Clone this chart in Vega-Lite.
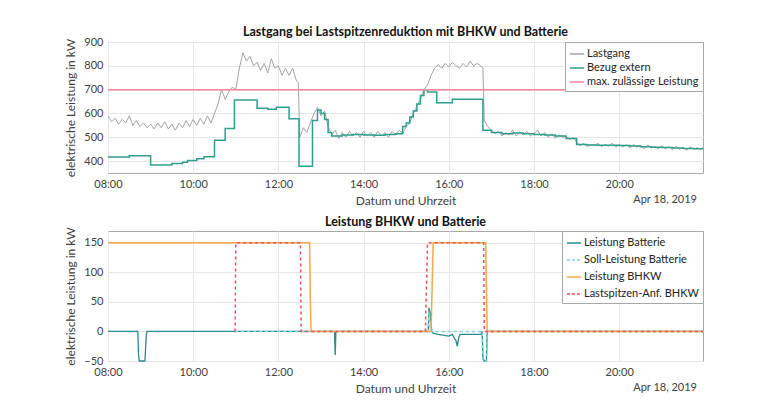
{
  "$schema": "https://vega.github.io/schema/vega-lite/v6.json",
  "background": "white",
  "padding": {"left": 64, "top": 25, "right": 10, "bottom": 0},
  "spacing": 8,
  "resolve": {"scale": {"color": "independent"}, "legend": {"color": "independent"}},
  "datasets": {
    "lastgang": [
      {"t":"2019-04-18T08:00","v":590},{"t":"2019-04-18T08:05","v":565},{"t":"2019-04-18T08:10","v":580},{"t":"2019-04-18T08:15","v":555},{"t":"2019-04-18T08:20","v":575},{"t":"2019-04-18T08:25","v":560},
      {"t":"2019-04-18T08:30","v":590},{"t":"2019-04-18T08:35","v":550},{"t":"2019-04-18T08:40","v":570},{"t":"2019-04-18T08:45","v":545},{"t":"2019-04-18T08:50","v":560},{"t":"2019-04-18T08:55","v":540},
      {"t":"2019-04-18T09:00","v":555},{"t":"2019-04-18T09:05","v":535},{"t":"2019-04-18T09:10","v":560},{"t":"2019-04-18T09:15","v":540},{"t":"2019-04-18T09:20","v":565},{"t":"2019-04-18T09:25","v":535},
      {"t":"2019-04-18T09:30","v":555},{"t":"2019-04-18T09:35","v":530},{"t":"2019-04-18T09:40","v":560},{"t":"2019-04-18T09:45","v":540},{"t":"2019-04-18T09:50","v":570},{"t":"2019-04-18T09:55","v":545},
      {"t":"2019-04-18T10:00","v":575},{"t":"2019-04-18T10:05","v":550},{"t":"2019-04-18T10:10","v":580},{"t":"2019-04-18T10:15","v":555},{"t":"2019-04-18T10:20","v":590},{"t":"2019-04-18T10:25","v":560},
      {"t":"2019-04-18T10:30","v":600},{"t":"2019-04-18T10:35","v":640},{"t":"2019-04-18T10:40","v":700},{"t":"2019-04-18T10:45","v":660},{"t":"2019-04-18T10:50","v":690},{"t":"2019-04-18T10:55","v":710},
      {"t":"2019-04-18T11:00","v":700},{"t":"2019-04-18T11:05","v":790},{"t":"2019-04-18T11:10","v":855},{"t":"2019-04-18T11:15","v":820},{"t":"2019-04-18T11:20","v":840},{"t":"2019-04-18T11:25","v":800},
      {"t":"2019-04-18T11:30","v":815},{"t":"2019-04-18T11:35","v":780},{"t":"2019-04-18T11:40","v":810},{"t":"2019-04-18T11:45","v":770},{"t":"2019-04-18T11:50","v":830},{"t":"2019-04-18T11:55","v":790},
      {"t":"2019-04-18T12:00","v":800},{"t":"2019-04-18T12:05","v":760},{"t":"2019-04-18T12:10","v":790},{"t":"2019-04-18T12:15","v":760},{"t":"2019-04-18T12:20","v":790},{"t":"2019-04-18T12:25","v":740},
      {"t":"2019-04-18T12:28","v":730},{"t":"2019-04-18T12:30","v":500},{"t":"2019-04-18T12:35","v":540},{"t":"2019-04-18T12:40","v":520},{"t":"2019-04-18T12:45","v":560},{"t":"2019-04-18T12:50","v":600},
      {"t":"2019-04-18T12:55","v":625},{"t":"2019-04-18T13:00","v":590},{"t":"2019-04-18T13:05","v":610},{"t":"2019-04-18T13:10","v":545},{"t":"2019-04-18T13:15","v":510},{"t":"2019-04-18T13:20","v":530},
      {"t":"2019-04-18T13:25","v":495},{"t":"2019-04-18T13:30","v":520},{"t":"2019-04-18T13:35","v":500},{"t":"2019-04-18T13:40","v":525},{"t":"2019-04-18T13:45","v":505},{"t":"2019-04-18T13:50","v":520},
      {"t":"2019-04-18T13:55","v":500},{"t":"2019-04-18T14:00","v":525},{"t":"2019-04-18T14:05","v":505},{"t":"2019-04-18T14:10","v":520},{"t":"2019-04-18T14:15","v":500},{"t":"2019-04-18T14:20","v":525},
      {"t":"2019-04-18T14:25","v":505},{"t":"2019-04-18T14:30","v":520},{"t":"2019-04-18T14:35","v":500},{"t":"2019-04-18T14:40","v":525},{"t":"2019-04-18T14:45","v":510},{"t":"2019-04-18T14:50","v":530},
      {"t":"2019-04-18T14:55","v":515},{"t":"2019-04-18T15:00","v":545},{"t":"2019-04-18T15:05","v":560},{"t":"2019-04-18T15:10","v":600},{"t":"2019-04-18T15:15","v":630},{"t":"2019-04-18T15:20","v":660},
      {"t":"2019-04-18T15:25","v":700},{"t":"2019-04-18T15:30","v":720},{"t":"2019-04-18T15:35","v":760},{"t":"2019-04-18T15:40","v":790},{"t":"2019-04-18T15:45","v":805},{"t":"2019-04-18T15:50","v":790},
      {"t":"2019-04-18T15:55","v":810},{"t":"2019-04-18T16:00","v":795},{"t":"2019-04-18T16:05","v":815},{"t":"2019-04-18T16:10","v":800},{"t":"2019-04-18T16:15","v":790},{"t":"2019-04-18T16:20","v":810},
      {"t":"2019-04-18T16:25","v":795},{"t":"2019-04-18T16:30","v":820},{"t":"2019-04-18T16:35","v":800},{"t":"2019-04-18T16:40","v":810},{"t":"2019-04-18T16:45","v":800},{"t":"2019-04-18T16:48","v":790},
      {"t":"2019-04-18T16:50","v":570},{"t":"2019-04-18T16:55","v":545},{"t":"2019-04-18T17:00","v":530},{"t":"2019-04-18T17:05","v":515},{"t":"2019-04-18T17:10","v":525},{"t":"2019-04-18T17:15","v":505},
      {"t":"2019-04-18T17:20","v":520},{"t":"2019-04-18T17:25","v":510},{"t":"2019-04-18T17:30","v":530},{"t":"2019-04-18T17:35","v":505},{"t":"2019-04-18T17:40","v":520},{"t":"2019-04-18T17:45","v":510},
      {"t":"2019-04-18T17:50","v":525},{"t":"2019-04-18T17:55","v":505},{"t":"2019-04-18T18:00","v":515},{"t":"2019-04-18T18:05","v":530},{"t":"2019-04-18T18:10","v":505},{"t":"2019-04-18T18:15","v":520},
      {"t":"2019-04-18T18:20","v":500},{"t":"2019-04-18T18:25","v":515},{"t":"2019-04-18T18:30","v":495},{"t":"2019-04-18T18:35","v":510},{"t":"2019-04-18T18:40","v":500},{"t":"2019-04-18T18:45","v":505},
      {"t":"2019-04-18T18:50","v":490},{"t":"2019-04-18T18:55","v":500},{"t":"2019-04-18T19:00","v":480},{"t":"2019-04-18T19:05","v":465},{"t":"2019-04-18T19:10","v":475},{"t":"2019-04-18T19:15","v":460},
      {"t":"2019-04-18T19:20","v":470},{"t":"2019-04-18T19:25","v":465},{"t":"2019-04-18T19:30","v":475},{"t":"2019-04-18T19:35","v":460},{"t":"2019-04-18T19:40","v":470},{"t":"2019-04-18T19:45","v":462},
      {"t":"2019-04-18T19:50","v":475},{"t":"2019-04-18T19:55","v":458},{"t":"2019-04-18T20:00","v":470},{"t":"2019-04-18T20:05","v":460},{"t":"2019-04-18T20:10","v":468},{"t":"2019-04-18T20:15","v":455},
      {"t":"2019-04-18T20:20","v":470},{"t":"2019-04-18T20:25","v":458},{"t":"2019-04-18T20:30","v":465},{"t":"2019-04-18T20:35","v":452},{"t":"2019-04-18T20:40","v":468},{"t":"2019-04-18T20:45","v":455},
      {"t":"2019-04-18T20:50","v":462},{"t":"2019-04-18T20:55","v":450},{"t":"2019-04-18T21:00","v":465},{"t":"2019-04-18T21:05","v":452},{"t":"2019-04-18T21:10","v":460},{"t":"2019-04-18T21:15","v":448},
      {"t":"2019-04-18T21:20","v":462},{"t":"2019-04-18T21:25","v":450},{"t":"2019-04-18T21:30","v":458},{"t":"2019-04-18T21:35","v":445},{"t":"2019-04-18T21:40","v":460},{"t":"2019-04-18T21:45","v":450},
      {"t":"2019-04-18T21:50","v":456},{"t":"2019-04-18T21:55","v":448},{"t":"2019-04-18T21:58","v":458}
    ],
    "bezug": [
      {"t":"2019-04-18T08:00","v":417},{"t":"2019-04-18T08:30","v":422},{"t":"2019-04-18T09:00","v":384},{"t":"2019-04-18T09:30","v":390},{"t":"2019-04-18T09:45","v":395},{"t":"2019-04-18T09:52","v":402},
      {"t":"2019-04-18T10:05","v":410},{"t":"2019-04-18T10:15","v":418},{"t":"2019-04-18T10:30","v":488},{"t":"2019-04-18T10:45","v":537},{"t":"2019-04-18T10:58","v":657},{"t":"2019-04-18T11:30","v":622},
      {"t":"2019-04-18T11:45","v":618},{"t":"2019-04-18T11:57","v":626},{"t":"2019-04-18T12:15","v":578},{"t":"2019-04-18T12:29","v":378},{"t":"2019-04-18T12:45","v":378},{"t":"2019-04-18T12:48","v":570},
      {"t":"2019-04-18T12:55","v":615},{"t":"2019-04-18T13:00","v":600},{"t":"2019-04-18T13:05","v":575},{"t":"2019-04-18T13:10","v":520},{"t":"2019-04-18T13:15","v":505},{"t":"2019-04-18T13:30","v":510},
      {"t":"2019-04-18T13:45","v":512},{"t":"2019-04-18T14:00","v":510},{"t":"2019-04-18T14:15","v":508},{"t":"2019-04-18T14:30","v":512},{"t":"2019-04-18T14:45","v":515},{"t":"2019-04-18T14:55","v":545},
      {"t":"2019-04-18T15:00","v":560},{"t":"2019-04-18T15:05","v":585},{"t":"2019-04-18T15:10","v":610},{"t":"2019-04-18T15:15","v":640},{"t":"2019-04-18T15:20","v":675},{"t":"2019-04-18T15:25","v":700},
      {"t":"2019-04-18T15:30","v":690},{"t":"2019-04-18T15:43","v":645},{"t":"2019-04-18T16:05","v":660},{"t":"2019-04-18T16:48","v":530},{"t":"2019-04-18T17:00","v":520},{"t":"2019-04-18T17:15","v":515},
      {"t":"2019-04-18T17:30","v":518},{"t":"2019-04-18T17:45","v":515},{"t":"2019-04-18T18:00","v":512},{"t":"2019-04-18T18:15","v":510},{"t":"2019-04-18T18:30","v":505},{"t":"2019-04-18T18:45","v":495},
      {"t":"2019-04-18T19:00","v":470},{"t":"2019-04-18T19:15","v":468},{"t":"2019-04-18T19:30","v":467},{"t":"2019-04-18T19:45","v":466},{"t":"2019-04-18T20:00","v":465},{"t":"2019-04-18T20:15","v":463},
      {"t":"2019-04-18T20:30","v":460},{"t":"2019-04-18T20:45","v":458},{"t":"2019-04-18T21:00","v":457},{"t":"2019-04-18T21:15","v":455},{"t":"2019-04-18T21:30","v":453},{"t":"2019-04-18T21:45","v":452},
      {"t":"2019-04-18T21:58","v":452}
    ],
    "grenze": [{"t":"2019-04-18T08:00","v":700},{"t":"2019-04-18T21:58","v":700}],
    "stampTop": [{"t":"2019-04-18T21:58","v":350,"label":"Apr 18, 2019"}],
    "stampBottom": [{"t":"2019-04-18T21:58","v":-50,"label":"Apr 18, 2019"}],
    "batterie": [
      {"t":"2019-04-18T08:00","v":0},{"t":"2019-04-18T08:42","v":0},{"t":"2019-04-18T08:43","v":-40},{"t":"2019-04-18T08:44","v":-50},{"t":"2019-04-18T08:52","v":-50},{"t":"2019-04-18T08:54","v":-5},{"t":"2019-04-18T08:55","v":0},
      {"t":"2019-04-18T13:19","v":0},{"t":"2019-04-18T13:20","v":-40},{"t":"2019-04-18T13:21","v":0},
      {"t":"2019-04-18T15:31","v":0},{"t":"2019-04-18T15:32","v":40},{"t":"2019-04-18T15:34","v":30},{"t":"2019-04-18T15:36","v":0},{"t":"2019-04-18T15:38","v":-3},{"t":"2019-04-18T15:45","v":-5},
      {"t":"2019-04-18T16:00","v":-8},{"t":"2019-04-18T16:05","v":-5},{"t":"2019-04-18T16:08","v":-12},{"t":"2019-04-18T16:10","v":-15},{"t":"2019-04-18T16:12","v":-25},{"t":"2019-04-18T16:14","v":-10},
      {"t":"2019-04-18T16:16","v":-5},{"t":"2019-04-18T16:45","v":-5},{"t":"2019-04-18T16:47","v":0},{"t":"2019-04-18T16:48","v":-45},{"t":"2019-04-18T16:50","v":-50},{"t":"2019-04-18T16:53","v":-50},
      {"t":"2019-04-18T16:54","v":-3},{"t":"2019-04-18T16:55","v":0},{"t":"2019-04-18T21:58","v":0}
    ],
    "soll": [
      {"t":"2019-04-18T10:59","v":0},{"t":"2019-04-18T15:31","v":0},{"t":"2019-04-18T15:32","v":35},{"t":"2019-04-18T15:34","v":0},{"t":"2019-04-18T16:47","v":0},{"t":"2019-04-18T16:48","v":-50},
      {"t":"2019-04-18T16:53","v":-50},{"t":"2019-04-18T16:54","v":0},{"t":"2019-04-18T21:58","v":0}
    ],
    "bhkw": [
      {"t":"2019-04-18T08:00","v":150},{"t":"2019-04-18T12:44","v":150},{"t":"2019-04-18T12:45","v":50},{"t":"2019-04-18T12:46","v":0},{"t":"2019-04-18T15:35","v":0},{"t":"2019-04-18T15:38","v":150},
      {"t":"2019-04-18T16:52","v":150},{"t":"2019-04-18T16:54","v":0},{"t":"2019-04-18T21:58","v":0}
    ],
    "anforderung": [
      {"t":"2019-04-18T10:59","v":0},{"t":"2019-04-18T11:00","v":150},{"t":"2019-04-18T12:31","v":150},{"t":"2019-04-18T12:32","v":0},{"t":"2019-04-18T15:27","v":0},{"t":"2019-04-18T15:30","v":150},
      {"t":"2019-04-18T16:49","v":150},{"t":"2019-04-18T16:50","v":0},{"t":"2019-04-18T21:58","v":0}
    ]
  },
  "vconcat": [
    {
      "width": 595,
      "height": 131,
      "title": {"text": "Lastgang bei Lastspitzenreduktion mit BHKW und Batterie", "offset": -2},
      "encoding": {
        "x": {"field": "t", "type": "temporal", "scale": {"nice": false},
              "axis": {"title": "Datum und Uhrzeit", "format": "%H:%M", "labelFlush": false,
                       "values": [{"year":2019,"month":4,"date":18,"hours":8},{"year":2019,"month":4,"date":18,"hours":10},{"year":2019,"month":4,"date":18,"hours":12},{"year":2019,"month":4,"date":18,"hours":14},{"year":2019,"month":4,"date":18,"hours":16},{"year":2019,"month":4,"date":18,"hours":18},{"year":2019,"month":4,"date":18,"hours":20}]}},
        "y": {"field": "v", "type": "quantitative", "scale": {"domain": [350, 900], "nice": false, "zero": false},
              "axis": {"title": "elektrische Leistung in kW", "values": [400, 500, 600, 700, 800, 900]}}
      },
      "layer": [
        {"data": {"name": "lastgang"},
         "mark": {"type": "line", "strokeWidth": 1},
         "encoding": {"color": {"datum": "Lastgang", "type": "nominal",
            "scale": {"domain": ["Lastgang", "Bezug extern", "max. zulässige Leistung"], "range": ["#a3a3a3", "#2e9f8c", "#f28a9b"]},
            "legend": {"title": null, "orient": "top-right", "offset": 0, "rowPadding": 1}}}},
        {"data": {"name": "bezug"},
         "mark": {"type": "line", "strokeWidth": 1.5, "interpolate": "step-after"},
         "encoding": {"color": {"datum": "Bezug extern", "type": "nominal"}}},
        {"data": {"name": "grenze"},
         "mark": {"type": "line", "strokeWidth": 1.5},
         "encoding": {"color": {"datum": "max. zulässige Leistung", "type": "nominal"}}},
        {"data": {"name": "stampTop"},
         "mark": {"type": "text", "align": "right", "baseline": "middle", "dy": 27, "dx": -6, "fontSize": 11, "color": "#404040"},
         "encoding": {"text": {"field": "label"}}}
      ]
    },
    {
      "width": 595,
      "height": 130,
      "title": {"text": "Leistung BHKW und Batterie", "offset": -2},
      "encoding": {
        "x": {"field": "t", "type": "temporal", "scale": {"nice": false},
              "axis": {"title": "Datum und Uhrzeit", "format": "%H:%M", "labelFlush": false,
                       "values": [{"year":2019,"month":4,"date":18,"hours":8},{"year":2019,"month":4,"date":18,"hours":10},{"year":2019,"month":4,"date":18,"hours":12},{"year":2019,"month":4,"date":18,"hours":14},{"year":2019,"month":4,"date":18,"hours":16},{"year":2019,"month":4,"date":18,"hours":18},{"year":2019,"month":4,"date":18,"hours":20}]}},
        "y": {"field": "v", "type": "quantitative", "scale": {"domain": [-50, 170], "nice": false, "zero": false},
              "axis": {"title": "elektrische Leistung in kW", "values": [-50, 0, 50, 100, 150]}}
      },
      "layer": [
        {"data": {"name": "batterie"},
         "mark": {"type": "line", "strokeWidth": 1.3},
         "encoding": {
           "color": {"datum": "Leistung Batterie", "type": "nominal",
             "scale": {"domain": ["Leistung Batterie", "Soll-Leistung Batterie", "Leistung BHKW", "Lastspitzen-Anf. BHKW"], "range": ["#2a8a8c", "#7fd3dd", "#f5a84a", "#e8505b"]},
             "legend": {"title": null, "orient": "top-right", "offset": 0, "rowPadding": 4,
               "encode": {"symbols": {"update": {"strokeDash": {"signal": "indexof(['Soll-Leistung Batterie', 'Lastspitzen-Anf. BHKW'], datum.value) >= 0 ? [3, 2] : [1, 0]"}}}}}}}},
        {"data": {"name": "soll"},
         "mark": {"type": "line", "strokeWidth": 1.5, "strokeDash": [3, 3]},
         "encoding": {"color": {"datum": "Soll-Leistung Batterie", "type": "nominal"}}},
        {"data": {"name": "bhkw"},
         "mark": {"type": "line", "strokeWidth": 1.5},
         "encoding": {"color": {"datum": "Leistung BHKW", "type": "nominal"}}},
        {"data": {"name": "anforderung"},
         "mark": {"type": "line", "strokeWidth": 1.5, "strokeDash": [3, 3]},
         "encoding": {"color": {"datum": "Lastspitzen-Anf. BHKW", "type": "nominal"}}},
        {"data": {"name": "stampBottom"},
         "mark": {"type": "text", "align": "right", "baseline": "middle", "dy": 27, "dx": -6, "fontSize": 11, "color": "#404040"},
         "encoding": {"text": {"field": "label"}}}
      ]
    }
  ],
  "config": {
    "font": "Lato",
    "view": {"stroke": "#a8a8a8", "strokeWidth": 1},
    "axis": {"gridColor": "#e6e6e6", "domain": false, "ticks": false, "labelPadding": 5, "labelColor": "#404040", "titleColor": "#404040",
             "labelFontSize": 11, "titleFontSize": 12, "titleFontWeight": "normal", "titlePadding": 6},
    "title": {"fontSize": 12.5, "fontWeight": "bold", "color": "#111111", "anchor": "middle"},
    "legend": {"symbolType": "stroke", "symbolSize": 200, "symbolStrokeWidth": 1.5, "strokeColor": "#a8a8a8", "fillColor": "white",
               "padding": 4, "labelFontSize": 11, "labelColor": "#222222", "rowPadding": 2, "labelOffset": 2}
  }
}
